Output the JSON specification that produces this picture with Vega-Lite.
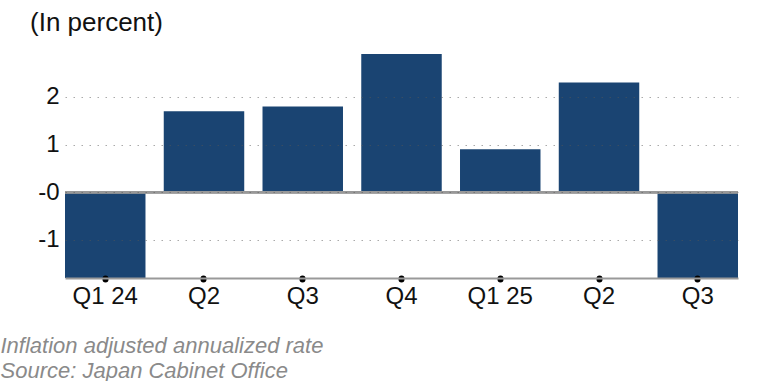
{
  "$schema": "https://vega.github.io/schema/vega-lite/v6.json",
  "autosize": "none",
  "width": 673,
  "height": 225,
  "padding": {"left": 65, "top": 53, "right": 31, "bottom": 103},
  "background": "white",
  "config": {"view": {"stroke": null}, "font": "Liberation Sans"},
  "title": {
    "text": "(In percent)",
    "anchor": "start",
    "frame": "group",
    "dx": -35,
    "offset": 17,
    "fontSize": 26,
    "fontWeight": "normal",
    "color": "#111111",
    "font": "Liberation Sans"
  },
  "data": {
    "values": [
      {"q": "Q1 24", "v": -2.4},
      {"q": "Q2", "v": 1.7},
      {"q": "Q3", "v": 1.8},
      {"q": "Q4", "v": 2.9},
      {"q": "Q1 25", "v": 0.9},
      {"q": "Q2 ", "v": 2.3},
      {"q": "Q3 ", "v": -1.8}
    ]
  },
  "layer": [
    {
      "mark": {"type": "bar", "color": "#1a4472", "clip": true},
      "encoding": {
        "x": {
          "field": "q",
          "type": "nominal",
          "sort": null,
          "scale": {"paddingInner": 0.185, "paddingOuter": 0},
          "axis": {
            "title": ["Inflation adjusted annualized rate", "Source: Japan Cabinet Office"],
            "titleFont": "Liberation Sans",
            "titleFontStyle": "italic",
            "titleFontWeight": "normal",
            "titleFontSize": 22,
            "titleColor": "#8a8a8a",
            "titleAlign": "left",
            "titleAnchor": "start",
            "titleBaseline": "alphabetic",
            "titleX": -65,
            "titleY": 74,
            "titleLineHeight": 25,
            "labelAngle": 0,
            "labelFontSize": 24,
            "labelColor": "#111111",
            "labelPadding": 5,
            "domainColor": "#999999",
            "domainWidth": 2,
            "tickColor": "#000000",
            "tickSize": 1,
            "tickWidth": 6,
            "tickCap": "round",
            "zindex": 2
          }
        },
        "y": {
          "field": "v",
          "type": "quantitative",
          "scale": {"domain": [-1.8, 2.92], "nice": false, "zero": false},
          "axis": {
            "title": null,
            "values": [-1, 0, 1, 2],
            "labelExpr": "datum.value === 0 ? '-0' : (datum.value < 0 ? '-' + format(-datum.value, 'd') : format(datum.value, 'd'))",
            "labelFontSize": 24,
            "labelColor": "#111111",
            "labelPadding": 6,
            "domain": false,
            "ticks": false,
            "grid": true,
            "gridColor": "#555555",
            "gridOpacity": 0.5,
            "gridDash": [1.5, 6.5],
            "gridWidth": 1.2,
            "zindex": 1
          }
        }
      }
    },
    {
      "mark": {"type": "rule", "color": "#999999", "strokeWidth": 2},
      "encoding": {"y": {"datum": 0, "type": "quantitative"}}
    }
  ]
}
